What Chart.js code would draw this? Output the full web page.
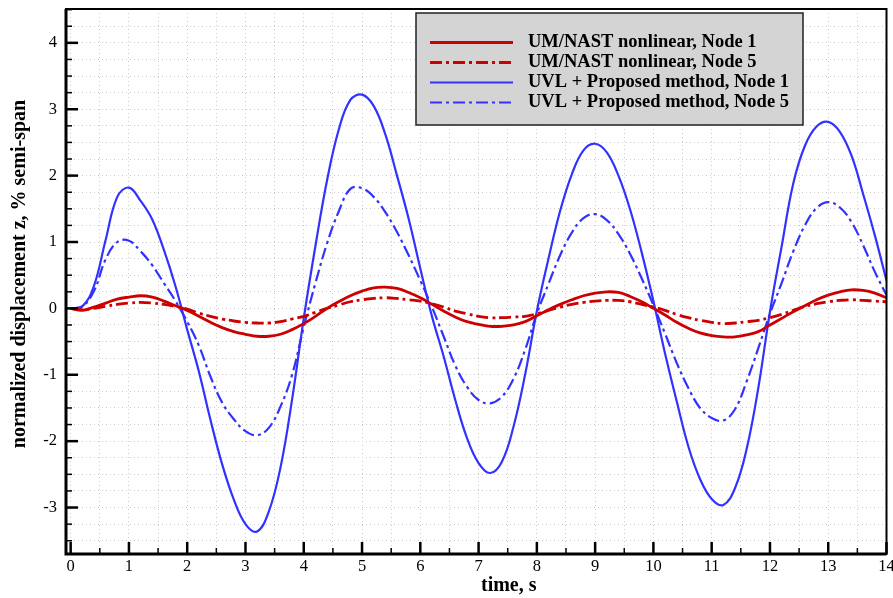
<!DOCTYPE html>
<html>
<head>
<meta charset="utf-8">
<script src="https://cdn.jsdelivr.net/npm/chart.js@4.4.1/dist/chart.umd.min.js"></script>
<style>
  html, body { margin: 0; padding: 0; background: #ffffff; }
  #wrap { width: 893px; height: 598px; }
</style>
</head>
<body>
<div id="wrap"><canvas id="c" width="893" height="598"></canvas></div>
<script>
// ---------------- data (every 0.2 s) ----------------
const time = [0, 0.2, 0.4, 0.6, 0.8, 1.0, 1.2, 1.4, 1.6, 1.8,
  2.0, 2.2, 2.4, 2.6, 2.8, 3.0, 3.2, 3.4, 3.6, 3.8,
  4.0, 4.2, 4.4, 4.6, 4.8, 5.0, 5.2, 5.4, 5.6, 5.8,
  6.0, 6.2, 6.4, 6.6, 6.8, 7.0, 7.2, 7.4, 7.6, 7.8,
  8.0, 8.2, 8.4, 8.6, 8.8, 9.0, 9.2, 9.4, 9.6, 9.8,
  10.0, 10.2, 10.4, 10.6, 10.8, 11.0, 11.2, 11.4, 11.6, 11.8,
  12.0, 12.2, 12.4, 12.6, 12.8, 13.0, 13.2, 13.4, 13.6, 13.8, 14.0];

// UM/NAST nonlinear, Node 1
const umNode1 = [0, -0.03, 0.02, 0.08, 0.14, 0.17, 0.19, 0.17, 0.11, 0.04,
  -0.03, -0.12, -0.21, -0.29, -0.35, -0.39, -0.42, -0.42, -0.39, -0.32,
  -0.23, -0.12, 0.0, 0.1, 0.19, 0.26, 0.31, 0.32, 0.3, 0.24,
  0.16, 0.06, -0.04, -0.13, -0.2, -0.24, -0.27, -0.27, -0.25, -0.2,
  -0.11, -0.02, 0.06, 0.13, 0.19, 0.23, 0.25, 0.24, 0.18, 0.1,
  0.0, -0.1, -0.21, -0.3, -0.37, -0.41, -0.43, -0.43, -0.4, -0.35,
  -0.25, -0.15, -0.05, 0.04, 0.13, 0.2, 0.25, 0.28, 0.27, 0.23, 0.16];

// UM/NAST nonlinear, Node 5
const umNode5 = [0, -0.02, 0.0, 0.03, 0.06, 0.08, 0.09, 0.08, 0.06, 0.03,
  -0.01, -0.07, -0.12, -0.16, -0.19, -0.21, -0.22, -0.22, -0.2, -0.16,
  -0.12, -0.06, 0.0, 0.05, 0.1, 0.13, 0.15, 0.16, 0.15, 0.13,
  0.11, 0.07, 0.02, -0.04, -0.08, -0.12, -0.14, -0.14, -0.13, -0.12,
  -0.08, -0.03, 0.02, 0.06, 0.09, 0.11, 0.12, 0.12, 0.1, 0.06,
  0.02, -0.03, -0.09, -0.14, -0.18, -0.21, -0.23, -0.22, -0.2, -0.18,
  -0.14, -0.09, -0.03, 0.03, 0.07, 0.1, 0.12, 0.13, 0.12, 0.11, 0.1];

// UVL + Proposed method, Node 1
const uvlNode1 = [0, 0.03, 0.34, 1.03, 1.68, 1.82, 1.62, 1.34, 0.88, 0.33,
  -0.32, -0.95, -1.68, -2.35, -2.88, -3.25, -3.36, -3.06, -2.40, -1.37,
  -0.15, 0.94, 1.93, 2.69, 3.14, 3.22, 3.05, 2.62, 2.0, 1.35,
  0.6, -0.12, -0.72, -1.38, -1.95, -2.33, -2.48, -2.31, -1.78, -0.99,
  -0.04, 0.75, 1.47, 2.02, 2.38, 2.48, 2.35, 2.0, 1.49, 0.84,
  0.11, -0.68, -1.40, -2.08, -2.57, -2.87, -2.96, -2.71, -2.12, -1.2,
  -0.05, 0.93, 1.88, 2.45, 2.74, 2.81, 2.66, 2.30, 1.72, 1.1, 0.42];

// UVL + Proposed method, Node 5
const uvlNode5 = [0, 0.03, 0.26, 0.74, 1.0, 1.02, 0.86, 0.65, 0.38, 0.11,
  -0.2, -0.56, -1.03, -1.42, -1.67, -1.85, -1.91, -1.8, -1.48, -1.0,
  -0.28, 0.38, 0.98, 1.46, 1.8, 1.81, 1.68, 1.45, 1.15, 0.8,
  0.42, 0.02, -0.42, -0.86, -1.18, -1.38, -1.43, -1.33, -1.06, -0.62,
  -0.08, 0.37, 0.8, 1.14, 1.36, 1.42, 1.33, 1.12, 0.82, 0.45,
  0.05, -0.38, -0.82, -1.2, -1.5, -1.65, -1.69, -1.52, -1.1, -0.6,
  -0.08, 0.38, 0.86, 1.25, 1.51, 1.6, 1.52, 1.3, 0.95, 0.55, 0.2];

const seriesLabels = [
  'UM/NAST nonlinear, Node 1',
  'UM/NAST nonlinear, Node 5',
  'UVL + Proposed method, Node 1',
  'UVL + Proposed method, Node 5'
];

// tick / grid positions
const xTickValues = [0, 0.5, 1, 1.5, 2, 2.5, 3, 3.5, 4, 4.5, 5, 5.5, 6, 6.5, 7, 7.5, 8, 8.5, 9, 9.5, 10, 10.5, 11, 11.5, 12, 12.5, 13, 13.5, 14];
const yTickValues = [-3.5, -3.25, -3, -2.75, -2.5, -2.25, -2, -1.75, -1.5, -1.25, -1, -0.75, -0.5, -0.25, 0, 0.25, 0.5, 0.75, 1, 1.25, 1.5, 1.75, 2, 2.25, 2.5, 2.75, 3, 3.25, 3.5, 3.75, 4, 4.25, 4.5];

const xTitle = 'time, s';
const yTitle = 'normalized displacement z, % semi-span';

// ---------------- chart ----------------
const SERIF = "'Liberation Serif', 'Times New Roman', Times, serif";
const RED = '#cc0000';
const BLUE = '#3232ff';
const DASHDOT = [12, 4, 3, 4];

function pts(t, v) { return t.map((x, i) => ({ x: x, y: v[i] })); }

const frameTicks = {
  id: 'frameTicks',
  afterDatasetsDraw(chart) {
    const { ctx, chartArea: a, scales: { x, y } } = chart;
    ctx.save();
    ctx.strokeStyle = '#000';
    ctx.lineCap = 'butt';
    yTickValues.forEach(v => {
      const py = y.getPixelForValue(v);
      const major = Number.isInteger(v);
      ctx.lineWidth = major ? 2.5 : 1.5;
      ctx.beginPath();
      ctx.moveTo(a.left, py);
      ctx.lineTo(a.left + (major ? 12 : 6), py);
      ctx.stroke();
    });
    xTickValues.forEach(v => {
      const px = x.getPixelForValue(v);
      const major = Number.isInteger(v);
      ctx.lineWidth = major ? 2.5 : 1.5;
      ctx.beginPath();
      ctx.moveTo(px, a.bottom);
      ctx.lineTo(px, a.bottom - (major ? 12 : 6));
      ctx.stroke();
    });
    ctx.lineWidth = 2;
    ctx.strokeRect(a.left, a.top, a.right - a.left, a.bottom - a.top);
    ctx.lineWidth = 3;
    ctx.beginPath();
    ctx.moveTo(a.left, a.top);
    ctx.lineTo(a.left, a.bottom);
    ctx.lineTo(a.right, a.bottom);
    ctx.stroke();
    ctx.restore();
  }
};

const boxLegend = {
  id: 'boxLegend',
  afterDraw(chart) {
    const { ctx } = chart;
    const bx = 416, by = 13, bw = 387, bh = 112;
    ctx.save();
    ctx.fillStyle = '#d4d4d4';
    ctx.fillRect(bx, by, bw, bh);
    ctx.strokeStyle = '#222';
    ctx.lineWidth = 1.5;
    ctx.strokeRect(bx, by, bw, bh);
    const rows = [42.5, 62.5, 82.5, 102.5];
    chart.data.datasets.forEach((ds, i) => {
      const yy = rows[i];
      ctx.strokeStyle = ds.borderColor;
      ctx.lineWidth = ds.borderWidth;
      ctx.setLineDash(ds.borderDash || []);
      ctx.beginPath();
      ctx.moveTo(430, yy);
      ctx.lineTo(513, yy);
      ctx.stroke();
      ctx.setLineDash([]);
      ctx.fillStyle = '#000';
      ctx.font = 'bold 18.5px ' + SERIF;
      ctx.textBaseline = 'middle';
      ctx.textAlign = 'left';
      ctx.fillText(ds.label, 528, yy);
    });
    ctx.restore();
  }
};

new Chart(document.getElementById('c'), {
  type: 'line',
  data: {
    datasets: [
      { label: seriesLabels[0], data: pts(time, umNode1), borderColor: RED, borderWidth: 2.8, borderDash: [] },
      { label: seriesLabels[1], data: pts(time, umNode5), borderColor: RED, borderWidth: 2.8, borderDash: DASHDOT },
      { label: seriesLabels[2], data: pts(time, uvlNode1), borderColor: BLUE, borderWidth: 2.2, borderDash: [] },
      { label: seriesLabels[3], data: pts(time, uvlNode5), borderColor: BLUE, borderWidth: 2.2, borderDash: DASHDOT }
    ]
  },
  options: {
    responsive: false,
    devicePixelRatio: 1,
    animation: false,
    events: [],
    layout: { padding: { top: 9, right: 6.5, left: 0, bottom: 0 } },
    elements: {
      point: { radius: 0 },
      line: { tension: 0.4, fill: false, borderCapStyle: 'butt' }
    },
    plugins: { legend: { display: false }, tooltip: { enabled: false }, title: { display: false } },
    scales: {
      x: {
        type: 'linear',
        min: -0.08,
        max: 14,
        afterBuildTicks: s => { s.ticks = xTickValues.map(v => ({ value: v })); },
        afterFit: s => { s.height = 44; s.paddingLeft = 0; s.paddingRight = 0; },
        grid: { color: '#cdcdcd', lineWidth: 1, drawTicks: false },
        border: { display: false, dash: [1, 3] },
        ticks: {
          autoSkip: false, maxRotation: 0, padding: 3, color: '#000',
          font: { family: SERIF, size: 16.5 },
          callback: v => Number.isInteger(v) ? String(v) : ''
        },
        title: {
          display: true, text: '             ' + xTitle, color: '#000',
          font: { family: SERIF, size: 20, weight: 'bold' },
          padding: { top: 0, bottom: 0.5 }
        }
      },
      y: {
        type: 'linear',
        min: -3.70,
        max: 4.51,
        afterBuildTicks: s => { s.ticks = yTickValues.map(v => ({ value: v })); },
        afterFit: s => { s.width = 66; s.paddingTop = 0; s.paddingBottom = 0; },
        grid: { color: '#cdcdcd', lineWidth: 1, drawTicks: false },
        border: { display: false, dash: [1, 3] },
        ticks: {
          autoSkip: false, padding: 9, color: '#000',
          font: { family: SERIF, size: 16.5 },
          callback: v => Number.isInteger(v) ? String(v) : ''
        },
        title: {
          display: true, text: '   ' + yTitle, color: '#000',
          font: { family: SERIF, size: 20, weight: 'bold' },
          padding: { top: 8, bottom: 0 }
        }
      }
    }
  },
  plugins: [frameTicks, boxLegend]
});
</script>
</body>
</html>
